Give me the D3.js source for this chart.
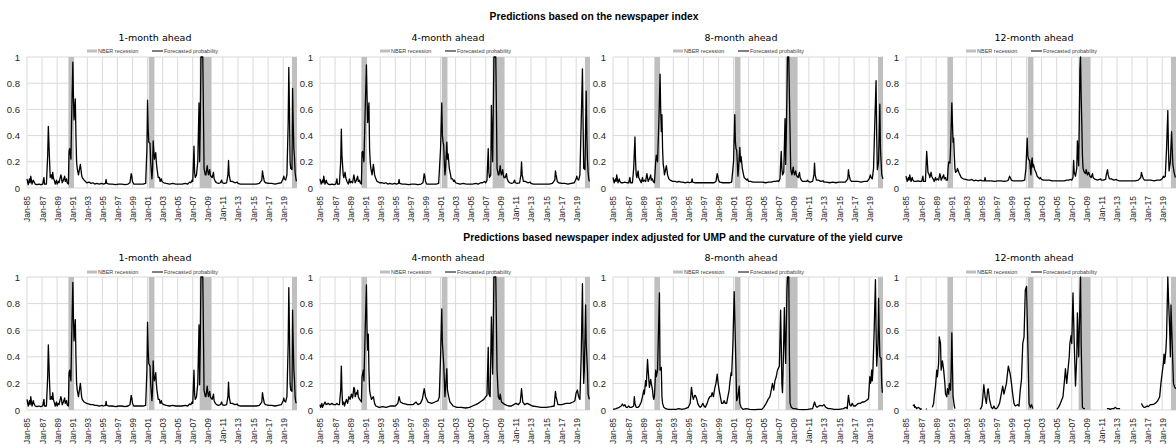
<!DOCTYPE html>
<html>
<head>
<meta charset="utf-8">
<script src="https://cdn.jsdelivr.net/npm/d3@7"></script>
<style>
  body { margin: 0; background: #fff; }
  svg { display: block; font-family: "Liberation Sans", Arial, sans-serif; }
</style>
</head>
<body>
<div id="container"></div>
<script>
/* DATA: [month index from Jan-85, probability] */
const horizons = ["1-month ahead", "4-month ahead", "8-month ahead", "12-month ahead"];
const rowTitles = [
  "Predictions based on the newspaper index",
  "Predictions based newspaper index adjusted for UMP and the curvature of the yield curve"
];
const legendLabels = ["NBER recession", "Forecasted probability"];
const tickYears = [1985, 1987, 1989, 1991, 1993, 1995, 1997, 1999, 2001, 2003, 2005, 2007, 2009, 2011, 2013, 2015, 2017, 2019];
const yTicks = [0, 0.2, 0.4, 0.6, 0.8, 1];
const recessions = [["1990-07", "1991-04"], ["2001-03", "2001-12"], ["2007-12", "2009-07"], ["2020-03", "2020-11"]];

const newspaper1 = [[0,.07],[2,.025],[4,.07],[5,.04],[6,.09],[8,.03],[10,.06],[11,.05],[13,.03],[16,.025],[19,.03],[22,.025],[25,.03],[27,.08],[28,.03],[31,.03],[33,.25],[34,.47],[36,.2],[37,.08],[39,.1],[40,.07],[41,.12],[42,.08],[44,.05],[45,.03],[47,.06],[48,.03],[50,.05],[51,.04],[54,.1],[55,.08],[56,.04],[58,.06],[60,.09],[61,.05],[63,.07],[64,.04],[66,.03],[67,.28],[68,.3],[70,.22],[71,.5],[73,.96],[74,.7],[75,.52],[77,.68],[78,.4],[79,.2],[80,.15],[82,.1],[85,.18],[87,.1],[88,.08],[91,.06],[95,.04],[99,.045],[102,.035],[105,.04],[108,.03],[111,.035],[115,.03],[119,.035],[122,.03],[125,.035],[126,.065],[127,.035],[131,.03],[136,.03],[141,.025],[146,.03],[151,.03],[156,.025],[161,.03],[164,.04],[166,.11],[167,.09],[168,.05],[170,.03],[175,.03],[180,.03],[185,.03],[189,.035],[191,.3],[192,.67],[193,.45],[194,.35],[196,.34],[197,.2],[199,.07],[200,.15],[201,.36],[202,.28],[203,.22],[205,.27],[206,.2],[207,.15],[209,.08],[211,.08],[212,.05],[214,.07],[215,.05],[218,.04],[222,.035],[227,.03],[232,.035],[237,.03],[242,.03],[247,.03],[252,.035],[256,.03],[259,.045],[261,.04],[263,.06],[264,.05],[266,.32],[267,.12],[268,.08],[270,.1],[272,.2],[274,.65],[275,.2],[276,.5],[277,1],[280,1],[281,.6],[282,.15],[284,.1],[285,.1],[287,.17],[288,.13],[289,.1],[291,.14],[292,.1],[293,.09],[295,.08],[297,.12],[298,.07],[300,.05],[302,.04],[305,.035],[308,.04],[310,.06],[311,.04],[314,.035],[318,.04],[320,.1],[321,.21],[322,.1],[324,.05],[327,.05],[331,.04],[335,.045],[336,.035],[340,.03],[345,.03],[350,.03],[355,.03],[360,.03],[365,.03],[370,.035],[374,.06],[375,.13],[376,.1],[378,.05],[380,.04],[385,.035],[390,.035],[395,.03],[400,.035],[405,.04],[408,.07],[409,.09],[410,.07],[412,.06],[414,.1],[416,.5],[417,.92],[418,.6],[419,.2],[420,.15],[422,.14],[423,.76],[424,.5],[425,.3],[426,.24],[427,.12],[428,.08],[429,.05]];

const newspaper4 = [[0,.07],[2,.03],[4,.06],[5,.04],[6,.09],[8,.03],[10,.06],[11,.04],[13,.03],[16,.025],[19,.03],[22,.025],[25,.03],[27,.07],[28,.03],[31,.03],[33,.2],[34,.45],[35,.25],[37,.1],[38,.08],[40,.12],[41,.08],[43,.05],[45,.03],[47,.07],[48,.04],[50,.05],[52,.04],[54,.1],[55,.07],[56,.04],[58,.06],[60,.09],[61,.05],[63,.06],[64,.04],[66,.03],[67,.27],[68,.28],[70,.2],[72,.6],[74,.94],[75,.7],[76,.5],[78,.65],[79,.3],[80,.2],[81,.15],[83,.1],[85,.18],[87,.1],[89,.07],[91,.05],[95,.04],[99,.04],[102,.035],[105,.04],[108,.03],[111,.035],[115,.03],[119,.035],[122,.03],[125,.035],[126,.065],[127,.035],[131,.03],[136,.03],[141,.025],[146,.03],[151,.03],[156,.025],[161,.03],[164,.04],[166,.11],[167,.09],[168,.05],[170,.03],[175,.03],[180,.03],[185,.03],[189,.035],[192,.3],[194,.65],[195,.4],[196,.35],[197,.33],[198,.2],[199,.1],[200,.15],[202,.35],[203,.22],[204,.26],[206,.15],[208,.1],[209,.07],[211,.07],[213,.05],[214,.06],[216,.04],[219,.035],[223,.03],[228,.035],[233,.03],[238,.03],[243,.03],[248,.035],[252,.03],[256,.04],[259,.04],[262,.05],[264,.04],[266,.06],[268,.3],[269,.12],[270,.08],[272,.1],[273,.63],[275,.2],[277,1],[280,1],[281,.6],[282,.15],[284,.1],[285,.1],[287,.17],[288,.12],[289,.1],[291,.14],[292,.1],[293,.08],[295,.08],[297,.11],[298,.07],[300,.05],[302,.04],[305,.035],[308,.04],[310,.06],[311,.04],[314,.035],[318,.04],[320,.1],[321,.2],[322,.1],[324,.05],[327,.05],[331,.04],[335,.045],[336,.035],[340,.03],[345,.03],[350,.03],[355,.03],[360,.03],[365,.03],[370,.035],[374,.06],[375,.13],[376,.1],[378,.05],[380,.04],[385,.035],[390,.035],[395,.03],[400,.035],[405,.04],[408,.07],[409,.09],[410,.07],[412,.06],[414,.1],[416,.5],[418,.91],[419,.5],[420,.15],[422,.14],[424,.74],[425,.4],[426,.22],[427,.12],[428,.07],[429,.05]];

const newspaper8 = [[0,.08],[2,.04],[4,.07],[5,.05],[6,.1],[8,.04],[10,.07],[11,.05],[13,.04],[16,.04],[19,.045],[22,.04],[25,.04],[27,.08],[28,.04],[31,.04],[33,.15],[35,.39],[36,.2],[37,.1],[38,.08],[40,.13],[41,.08],[43,.06],[45,.04],[47,.08],[48,.05],[50,.06],[52,.05],[54,.11],[55,.08],[56,.05],[58,.07],[60,.1],[61,.06],[63,.07],[64,.05],[66,.04],[68,.2],[69,.25],[71,.2],[73,.5],[75,.87],[76,.6],[77,.43],[78,.56],[79,.3],[80,.18],[81,.15],[82,.1],[85,.17],[87,.1],[89,.07],[91,.06],[95,.05],[99,.05],[102,.045],[105,.05],[108,.045],[111,.045],[115,.04],[119,.045],[122,.04],[125,.045],[126,.07],[127,.045],[131,.04],[136,.04],[141,.04],[146,.04],[151,.04],[156,.04],[161,.04],[164,.05],[166,.11],[167,.09],[168,.06],[170,.045],[175,.04],[180,.04],[185,.04],[189,.045],[192,.2],[194,.56],[195,.35],[196,.3],[197,.29],[198,.2],[199,.09],[200,.15],[202,.31],[203,.2],[204,.24],[206,.15],[208,.1],[209,.08],[211,.07],[213,.06],[214,.07],[216,.05],[219,.05],[223,.045],[228,.045],[233,.045],[238,.045],[243,.04],[248,.045],[252,.045],[256,.05],[259,.05],[262,.055],[264,.05],[266,.07],[268,.28],[269,.15],[270,.1],[272,.12],[274,.53],[275,.18],[276,.4],[278,1],[280,1],[281,.7],[283,.15],[284,.12],[285,.1],[287,.16],[288,.12],[289,.1],[291,.13],[292,.1],[293,.09],[295,.08],[297,.12],[298,.08],[300,.06],[302,.05],[305,.05],[308,.05],[310,.06],[311,.05],[314,.045],[318,.05],[320,.1],[321,.19],[322,.1],[324,.06],[327,.06],[331,.05],[335,.055],[336,.045],[340,.045],[345,.04],[350,.045],[355,.04],[360,.045],[365,.045],[370,.045],[374,.07],[375,.14],[376,.1],[378,.06],[380,.05],[385,.05],[390,.05],[395,.045],[400,.05],[405,.05],[408,.07],[410,.1],[411,.08],[413,.07],[415,.15],[417,.5],[419,.82],[420,.4],[421,.14],[423,.2],[425,.64],[426,.3],[427,.2],[428,.1],[430,.07]];

const newspaper12 = [[0,.09],[2,.05],[4,.08],[5,.06],[6,.1],[8,.05],[10,.08],[11,.06],[13,.05],[16,.05],[19,.055],[22,.05],[25,.05],[27,.09],[28,.05],[31,.05],[33,.28],[34,.2],[35,.12],[37,.1],[38,.08],[40,.12],[41,.09],[43,.07],[45,.05],[47,.08],[48,.06],[50,.07],[52,.06],[54,.11],[55,.09],[56,.06],[58,.08],[60,.1],[61,.07],[63,.08],[64,.06],[66,.06],[67,.15],[68,.2],[70,.19],[71,.3],[73,.65],[74,.5],[75,.35],[76,.38],[77,.25],[78,.15],[79,.12],[81,.13],[82,.15],[84,.12],[86,.1],[88,.08],[91,.07],[95,.065],[99,.06],[102,.06],[105,.065],[108,.055],[111,.06],[115,.055],[119,.06],[122,.055],[125,.055],[126,.08],[127,.055],[131,.055],[136,.055],[141,.05],[146,.055],[151,.055],[156,.05],[161,.055],[163,.06],[165,.09],[166,.08],[168,.06],[170,.055],[175,.055],[180,.055],[185,.055],[189,.06],[191,.15],[193,.38],[194,.25],[195,.22],[197,.21],[198,.15],[199,.1],[200,.2],[201,.23],[202,.16],[203,.18],[205,.14],[207,.12],[209,.09],[211,.08],[213,.07],[214,.08],[216,.065],[219,.06],[223,.06],[228,.06],[233,.055],[238,.055],[243,.055],[248,.055],[252,.055],[256,.06],[259,.06],[262,.065],[264,.06],[266,.08],[267,.21],[268,.12],[270,.09],[272,.15],[273,.36],[275,.17],[276,.5],[277,.9],[278,1],[279,.7],[280,.5],[281,.25],[282,.15],[284,.12],[286,.11],[287,.14],[288,.12],[289,.1],[291,.12],[293,.09],[295,.08],[297,.11],[298,.08],[300,.07],[302,.065],[305,.06],[308,.065],[310,.07],[311,.06],[314,.06],[318,.065],[319,.1],[321,.14],[322,.1],[324,.07],[327,.07],[331,.06],[335,.065],[336,.06],[340,.055],[345,.055],[350,.055],[355,.055],[360,.055],[365,.055],[370,.06],[374,.08],[375,.12],[376,.1],[378,.07],[380,.06],[385,.06],[390,.06],[395,.055],[400,.06],[405,.06],[408,.07],[410,.09],[411,.08],[413,.09],[415,.3],[417,.59],[418,.3],[419,.13],[421,.2],[423,.43],[424,.3],[425,.18],[427,.12],[429,.08]];

const adjusted1 = [[0,.08],[2,.03],[4,.07],[5,.04],[6,.1],[8,.03],[10,.07],[11,.05],[13,.03],[16,.025],[19,.03],[22,.025],[25,.03],[27,.08],[28,.03],[31,.03],[33,.25],[34,.49],[36,.2],[37,.08],[39,.1],[40,.08],[41,.13],[42,.08],[44,.05],[45,.03],[47,.06],[48,.03],[50,.05],[51,.04],[54,.1],[55,.08],[56,.04],[58,.06],[60,.09],[61,.05],[63,.07],[64,.04],[66,.03],[67,.28],[68,.3],[70,.22],[71,.5],[73,.96],[74,.7],[75,.52],[77,.68],[78,.4],[79,.2],[80,.15],[82,.1],[85,.2],[87,.1],[88,.08],[91,.06],[95,.05],[99,.045],[102,.04],[105,.04],[108,.035],[111,.035],[115,.03],[119,.035],[122,.03],[125,.035],[126,.065],[127,.035],[131,.03],[136,.03],[141,.025],[146,.03],[151,.03],[156,.025],[161,.03],[164,.04],[166,.11],[167,.09],[168,.05],[170,.03],[175,.03],[180,.03],[185,.03],[189,.035],[191,.3],[192,.66],[193,.45],[194,.35],[196,.33],[197,.2],[199,.07],[200,.15],[201,.37],[202,.25],[203,.22],[205,.28],[206,.2],[207,.15],[209,.08],[211,.08],[212,.05],[214,.07],[215,.05],[218,.04],[222,.035],[227,.03],[232,.035],[237,.03],[242,.03],[247,.03],[252,.035],[256,.03],[259,.045],[261,.04],[263,.06],[264,.05],[266,.3],[267,.12],[268,.08],[270,.1],[272,.2],[274,.64],[275,.19],[276,.5],[277,1],[280,1],[281,.6],[282,.15],[284,.1],[285,.1],[287,.18],[288,.13],[289,.1],[291,.14],[292,.1],[293,.09],[295,.08],[297,.12],[298,.07],[300,.05],[302,.04],[305,.035],[308,.04],[310,.06],[311,.04],[314,.035],[318,.04],[320,.1],[321,.21],[322,.1],[324,.05],[327,.05],[331,.04],[335,.045],[336,.035],[340,.03],[345,.03],[350,.03],[355,.03],[360,.03],[365,.03],[370,.035],[374,.06],[375,.13],[376,.1],[378,.05],[380,.04],[385,.035],[390,.035],[395,.03],[400,.035],[405,.04],[408,.07],[409,.09],[410,.07],[412,.06],[414,.1],[416,.5],[417,.92],[418,.6],[419,.2],[420,.15],[422,.14],[423,.75],[424,.5],[425,.3],[426,.23],[427,.1],[428,.06],[429,.05]];

const adjusted4 = [[0,.04],[1,.02],[3,.05],[4,.02],[6,.04],[8,.06],[10,.04],[13,.05],[16,.04],[19,.05],[22,.04],[25,.04],[27,.05],[29,.04],[31,.04],[33,.15],[34,.33],[35,.15],[36,.04],[38,.06],[39,.03],[42,.08],[44,.05],[46,.1],[48,.08],[50,.12],[52,.09],[54,.17],[55,.16],[56,.1],[58,.13],[59,.12],[60,.15],[61,.1],[63,.08],[65,.07],[66,.06],[67,.25],[69,.3],[70,.22],[72,.6],[74,.94],[75,.6],[76,.45],[77,.57],[78,.3],[79,.15],[80,.12],[82,.08],[85,.1],[87,.05],[89,.03],[94,.02],[100,.025],[105,.02],[112,.03],[120,.03],[124,.05],[126,.1],[128,.06],[132,.05],[140,.04],[148,.04],[153,.06],[156,.04],[160,.05],[163,.08],[166,.16],[168,.1],[172,.06],[178,.05],[183,.06],[188,.07],[190,.1],[192,.4],[194,.76],[195,.5],[197,.35],[199,.1],[202,.31],[203,.15],[205,.1],[207,.06],[209,.05],[212,.03],[218,.02],[225,.02],[232,.015],[238,.02],[243,.03],[248,.04],[252,.05],[255,.06],[258,.07],[261,.08],[264,.1],[266,.11],[268,.47],[269,.12],[271,.1],[273,.7],[275,.27],[277,1],[280,1],[282,.3],[284,.1],[286,.08],[287,.12],[289,.06],[292,.05],[295,.04],[300,.03],[305,.03],[312,.05],[316,.04],[319,.06],[321,.16],[323,.06],[326,.04],[330,.05],[334,.04],[338,.03],[345,.025],[352,.02],[360,.02],[368,.025],[373,.03],[375,.14],[376,.1],[379,.04],[385,.04],[392,.05],[398,.05],[403,.06],[406,.07],[408,.13],[410,.15],[412,.1],[414,.08],[416,.4],[418,.95],[419,.5],[420,.2],[421,.3],[423,.79],[424,.5],[426,.3],[427,.12],[429,.08]];

const adjusted8 = [[0,.005],[5,.01],[10,.02],[13,.03],[15,.045],[17,.03],[19,.04],[21,.02],[23,.02],[25,.03],[27,.02],[30,.02],[33,.03],[34,.1],[35,.05],[37,.02],[40,.02],[42,.03],[45,.06],[47,.1],[49,.15],[50,.12],[52,.22],[53,.18],[55,.38],[56,.3],[58,.17],[60,.23],[61,.2],[63,.15],[64,.1],[65,.08],[66,.1],[68,.3],[69,.25],[71,.3],[72,.5],[74,.88],[75,.3],[77,.32],[78,.1],[79,.05],[81,.02],[84,.01],[88,.005],[100,.005],[105,.01],[110,.005],[115,.01],[120,.02],[123,.05],[125,.17],[127,.1],[128,.08],[130,.11],[131,.11],[133,.09],[135,.05],[137,.03],[139,.02],[141,.03],[143,.05],[145,.03],[147,.02],[150,.05],[152,.08],[154,.1],[156,.1],[158,.13],[160,.1],[162,.16],[164,.2],[166,.27],[167,.22],[169,.15],[171,.1],[173,.05],[175,.05],[177,.07],[179,.05],[181,.05],[183,.1],[185,.15],[186,.2],[188,.28],[189,.26],[191,.5],[193,.89],[194,.7],[195,.5],[197,.07],[199,.1],[201,.18],[202,.05],[204,.02],[207,.005],[212,.01],[218,.005],[225,.003],[232,.005],[237,.005],[240,.02],[244,.05],[247,.08],[250,.1],[252,.15],[254,.2],[256,.15],[258,.22],[260,.25],[262,.3],[264,.32],[265,.33],[267,.75],[268,.5],[269,.2],[270,.13],[271,.3],[273,.77],[274,.5],[275,.35],[277,.9],[278,1],[280,1],[281,.4],[282,.05],[284,.02],[287,.01],[290,.01],[295,.005],[303,.003],[310,.005],[318,.01],[321,.06],[323,.03],[325,.02],[328,.03],[330,.035],[333,.03],[336,.04],[339,.02],[343,.01],[346,.01],[352,.005],[360,.005],[367,.01],[371,.02],[373,.01],[375,.11],[377,.04],[379,.03],[381,.05],[383,.03],[386,.03],[388,.04],[391,.05],[394,.05],[397,.06],[400,.06],[403,.07],[406,.08],[407,.09],[409,.25],[410,.2],[411,.22],[412,.3],[413,.22],[414,.3],[416,.6],[418,.98],[419,.6],[420,.33],[422,.5],[423,.84],[424,.6],[425,.4],[427,.39],[428,.2],[429,.13]];

const adjusted12 = [[0,null],[10,null],[11,.03],[12,.035],[13,.04],[14,.02],[15,.025],[17,.01],[18,.015],[20,.02],[22,.01],[23,.005],[25,.01],[26,null],[31,null],[32,.01],[33,.005],[34,null],[41,null],[42,.02],[44,.05],[45,.1],[47,.18],[49,.3],[50,.25],[52,.35],[53,.55],[55,.5],[56,.3],[58,.37],[60,.3],[62,.2],[63,.12],[65,.1],[66,.16],[68,.12],[69,.2],[71,.15],[72,.3],[73,.58],[75,.1],[77,.03],[78,.01],[79,null],[117,null],[118,.005],[119,.01],[121,.03],[122,.07],[124,.19],[126,.1],[128,.05],[130,.15],[131,.16],[133,.08],[136,.02],[138,.01],[140,.03],[142,.01],[144,.01],[146,.02],[149,.05],[151,.1],[154,.18],[156,.12],[160,.2],[163,.33],[166,.27],[168,.2],[170,.12],[172,.05],[174,.03],[178,.04],[180,.03],[182,.15],[184,.23],[186,.5],[188,.55],[190,.9],[192,.93],[194,.5],[196,.05],[198,.02],[200,.04],[202,.01],[203,null],[239,null],[240,.005],[243,.02],[246,.05],[250,.1],[252,.2],[254,.31],[256,.2],[258,.3],[260,.4],[261,.5],[263,.56],[264,.5],[266,.88],[268,.5],[270,.18],[272,.4],[273,.73],[275,.4],[277,.8],[278,1],[279,.5],[281,.02],[283,.01],[285,.01],[286,null],[319,null],[320,.01],[323,.01],[325,.005],[328,.01],[331,.01],[333,.02],[336,.01],[339,.01],[341,.01],[342,null],[374,null],[375,.05],[377,.03],[379,.02],[381,.02],[384,.03],[386,.025],[389,.04],[392,.04],[395,.045],[397,.05],[401,.07],[404,.1],[406,.2],[408,.28],[410,.35],[411,.42],[412,.35],[414,.45],[415,.55],[417,1],[418,.85],[420,.6],[421,.4],[422,.79],[424,.5],[426,.2],[428,.17],[430,.16]];

/* CONSTANTS AND GLOBALS */
const width = 1176, height = 448;
const plotW = 270;
const panelLeft = [27, 320, 613, 906];
const rows = [
  { title: rowTitles[0], titleX: 594, titleY: 16, subY: 38, legY: 51, top: 57, bottom: 188, series: [newspaper1, newspaper4, newspaper8, newspaper12] },
  { title: rowTitles[1], titleX: 683, titleY: 237, subY: 258, legY: 272, top: 277, bottom: 410, series: [adjusted1, adjusted4, adjusted8, adjusted12] }
];

const monthDate = m => new Date(1985, m, 1);
const parseMonth = d3.timeParse("%Y-%m");
const tickDates = tickYears.map(y => new Date(y, 0, 1));

const svg = d3.select("#container")
  .append("svg")
  .attr("width", width)
  .attr("height", height);

rows.forEach(row => {
  svg.append("text")
     .attr("x", row.titleX)
     .attr("y", row.titleY)
     .attr("dy", "0.35em")
     .attr("text-anchor", "middle")
     .attr("font-size", 10.3)
     .attr("font-weight", "bold")
     .attr("fill", "#000")
     .text(row.title);

  row.series.forEach((data, i) => {
    const left = panelLeft[i];
    const g = svg.append("g");

    const xScale = d3.scaleTime()
      .domain([monthDate(0), monthDate(430)])
      .range([left, left + plotW]);
    const yScale = d3.scaleLinear()
      .domain([0, 1])
      .range([row.bottom, row.top]);

    // subtitle
    g.append("text")
     .attr("x", left + 128)
     .attr("y", row.subY)
     .attr("dy", "0.35em")
     .attr("text-anchor", "middle")
     .attr("font-family", "DejaVu Sans, Verdana, sans-serif")
     .attr("font-size", 9.5)
     .attr("fill", "#000")
     .text(horizons[i]);

    // legend
    const lg = g.append("g").attr("transform", `translate(${left + 60}, ${row.legY})`);
    lg.append("line").attr("x1", 0).attr("x2", 10).attr("stroke", "#bfbfbf").attr("stroke-width", 3);
    lg.append("text").attr("x", 11).attr("dy", "0.35em").attr("font-size", 5.5).attr("fill", "#404040").text(legendLabels[0]);
    lg.append("line").attr("x1", 65).attr("x2", 76).attr("stroke", "#000").attr("stroke-width", 1);
    lg.append("text").attr("x", 77).attr("dy", "0.35em").attr("font-size", 5.5).attr("fill", "#404040").text(legendLabels[1]);

    // gridlines
    g.append("g").selectAll("line")
     .data(yTicks)
     .join("line")
     .attr("x1", left).attr("x2", left + plotW)
     .attr("y1", d => yScale(d)).attr("y2", d => yScale(d))
     .attr("stroke", "#d9d9d9");
    g.append("g").selectAll("line")
     .data(tickDates)
     .join("line")
     .attr("x1", d => xScale(d)).attr("x2", d => xScale(d))
     .attr("y1", row.top).attr("y2", row.bottom)
     .attr("stroke", "#d9d9d9");

    // recession bands
    g.append("g").selectAll("rect")
     .data(recessions)
     .join("rect")
     .attr("x", d => xScale(parseMonth(d[0])))
     .attr("width", d => Math.min(xScale(parseMonth(d[1])), left + plotW) - xScale(parseMonth(d[0])))
     .attr("y", row.top)
     .attr("height", row.bottom - row.top)
     .attr("fill", "#bfbfbf");

    // probability line
    const line = d3.line()
      .defined(d => d[1] != null)
      .x(d => xScale(monthDate(d[0])))
      .y(d => yScale(d[1]));
    g.append("path")
     .datum(data)
     .attr("d", line)
     .attr("fill", "none")
     .attr("stroke", "#000")
     .attr("stroke-width", 1.3)
     .attr("stroke-linejoin", "round");

    // axes
    const xAxis = d3.axisBottom(xScale)
      .tickValues(tickDates)
      .tickFormat(d3.timeFormat("%b-%y"))
      .tickSize(0);
    const xg = g.append("g")
      .attr("transform", `translate(0, ${row.bottom})`)
      .call(xAxis);
    xg.select(".domain").remove();
    xg.selectAll("text")
      .attr("transform", "rotate(-90)")
      .attr("x", -8)
      .attr("y", 0)
      .attr("dy", "0.35em")
      .attr("text-anchor", "end")
      .attr("font-size", 8.5)
      .attr("font-family", "Liberation Sans, Arial, sans-serif")
      .attr("fill", "#262626");

    const yAxis = d3.axisLeft(yScale)
      .tickValues(yTicks)
      .tickFormat(d3.format("~g"))
      .tickSize(0)
      .tickPadding(7);
    const yg = g.append("g")
      .attr("transform", `translate(${left}, 0)`)
      .call(yAxis);
    yg.select(".domain").remove();
    yg.selectAll("text")
      .attr("font-size", 9.5)
      .attr("font-family", "Liberation Sans, Arial, sans-serif")
      .attr("fill", "#262626");
  });
});
</script>
</body>
</html>
